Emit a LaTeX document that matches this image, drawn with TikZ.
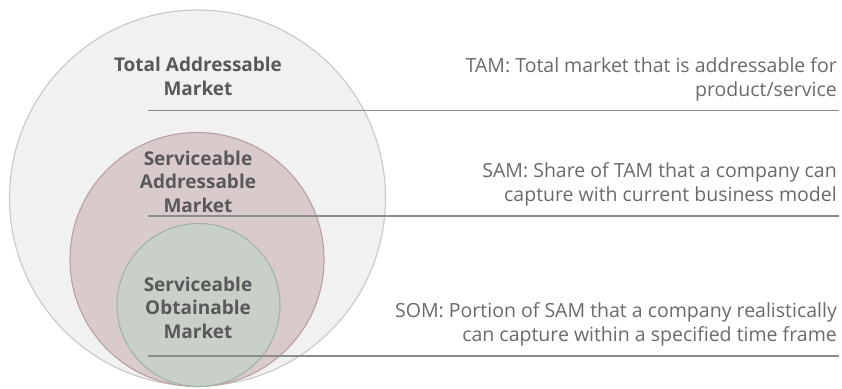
\documentclass[tikz,border=0pt]{standalone}
\usepackage{fontspec}
\setmainfont{Open Sans}
\usetikzlibrary{positioning}
\definecolor{tamfill}{HTML}{F1F1F1}
\definecolor{tamedge}{HTML}{C8C8C8}
\definecolor{samfill}{HTML}{D9CBCB}
\definecolor{samedge}{HTML}{B9A0A0}
\definecolor{somfill}{HTML}{C8D0C8}
\definecolor{somedge}{HTML}{A2B4A6}
\definecolor{labelgray}{HTML}{595959}
\definecolor{notegray}{HTML}{6A6A6A}
\definecolor{rulegray}{HTML}{8C8C8C}

\begin{document}
\begin{tikzpicture}[x=1pt, y=-1pt,
  ring/.style={circle, draw, line width=1.1pt, inner sep=0pt},
  mlabel/.style={align=center, text=labelgray, inner sep=0pt, anchor=base,
                 font=\fontsize{19}{23.5}\selectfont\bfseries},
  note/.style={align=right, text=notegray, inner sep=0pt, anchor=base east,
               font=\fontsize{19.5}{24}\selectfont},
  rule/.style={draw=rulegray, line width=1.3pt}]

\useasboundingbox (0,0) rectangle (842,388);

%---------------------------------------
% Nested market circles
%---------------------------------------
\node[ring, fill=tamfill, draw=tamedge, minimum size=376pt] (tam) at (197.5,198) {};
\node[ring, fill=samfill, draw=samedge, minimum size=254pt] (sam) at (197,259.5) {};
\node[ring, fill=somfill, draw=somedge, minimum size=163pt] (som) at (198.5,305) {};

%---------------------------------------
% Separator rules
%---------------------------------------
\def\xl{148}
\def\xr{839}
\coordinate (tamrule-l) at (\xl,110.5);
\coordinate (tamrule-r) at (\xr,110.5);
\coordinate (samrule-l) at (\xl,216);
\coordinate (samrule-r) at (\xr,216);
\coordinate (somrule-l) at (\xl,356);
\coordinate (somrule-r) at (\xr,356);

\draw[rule] (tamrule-l) -- (tamrule-r);
\draw[rule] (samrule-l) -- (samrule-r);
\draw[rule] (somrule-l) -- (somrule-r);

%---------------------------------------
% Circle labels (base = last line)
%---------------------------------------
\node[mlabel] (tamlabel) at (198,95) {Total Addressable\\Market};
\node[mlabel] (samlabel) at (198,212) {Serviceable\\Addressable\\Market};
\node[mlabel] (somlabel) at (198,338) {Serviceable\\Obtainable\\Market};

%---------------------------------------
% Definitions on the right
%---------------------------------------
\node[note] (tamnote) at (837,96) {TAM: Total market that is addressable for\\product/service};
\node[note] (samnote) at (837,201) {SAM: Share of TAM that a company can\\capture with current business model};
\node[note] (somnote) at (837,341) {SOM: Portion of SAM that a company realistically\\can capture within a specified time frame};

\end{tikzpicture}
\end{document}
